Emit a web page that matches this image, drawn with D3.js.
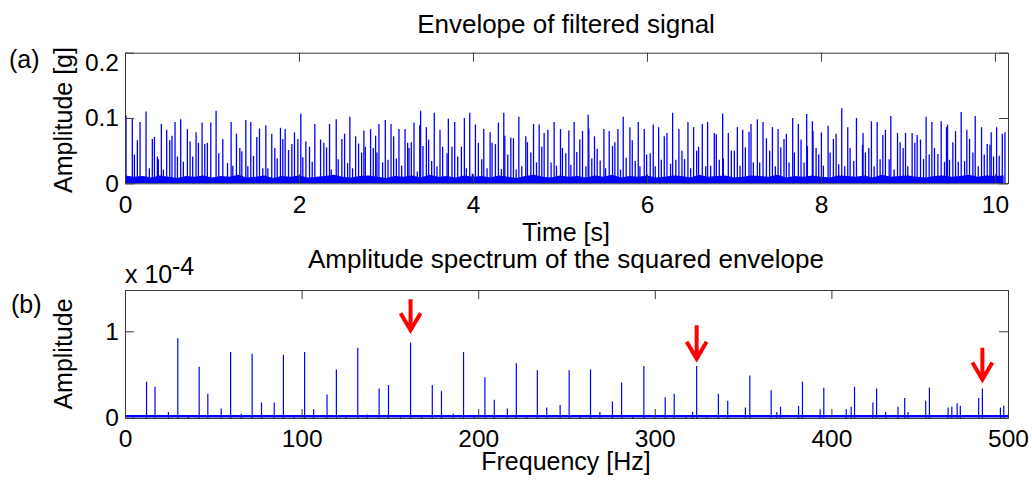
<!DOCTYPE html>
<html><head><meta charset="utf-8">
<script src="https://cdn.jsdelivr.net/npm/d3@7"></script>
<style>
body{margin:0;background:#fff}
svg{display:block}
text{font-family:Arial,"Liberation Sans",Helvetica,sans-serif;fill:#000}
</style>
</head><body>
<svg id="c" width="1032" height="482"></svg>
<script>
// ---------------- DATA ----------------
// (a) envelope: spike peaks [time s, amplitude g]
const envSpikes = [
[0.012,0.104],[0.084,0.099],[0.108,0.044],[0.142,0.066],[0.173,0.094],[0.242,0.110],[0.280,0.023],[0.314,0.068],[0.338,0.071],[0.372,0.041],[0.383,0.037],[0.418,0.091],[0.441,0.021],[0.479,0.082],[0.514,0.066],[0.540,0.073],[0.575,0.094],[0.603,0.041],[0.640,0.098],[0.671,0.033],[0.717,0.083],[0.748,0.064],[0.778,0.041],[0.817,0.078],[0.844,0.062],[0.886,0.093],[0.917,0.060],[0.947,0.062],[0.986,0.093],[1.047,0.111],[1.078,0.046],[1.124,0.068],[1.178,0.031],[1.220,0.094],[1.239,0.027],[1.281,0.076],[1.320,0.054],[1.343,0.049],[1.389,0.097],[1.412,0.026],[1.446,0.094],[1.477,0.042],[1.515,0.071],[1.546,0.084],[1.584,0.023],[1.619,0.089],[1.642,0.023],[1.687,0.076],[1.722,0.054],[1.750,0.038],[1.787,0.085],[1.814,0.068],[1.841,0.083],[1.880,0.051],[1.918,0.060],[1.948,0.078],[1.987,0.068],[2.021,0.107],[2.044,0.040],[2.079,0.064],[2.121,0.056],[2.152,0.033],[2.182,0.091],[2.248,0.067],[2.286,0.062],[2.317,0.055],[2.351,0.091],[2.371,0.021],[2.428,0.098],[2.451,0.037],[2.493,0.068],
[2.524,0.076],[2.559,0.031],[2.585,0.102],[2.616,0.023],[2.651,0.072],[2.685,0.061],[2.720,0.047],[2.746,0.081],[2.762,0.056],[2.823,0.083],[2.854,0.054],[2.881,0.073],[2.896,0.047],[2.919,0.091],[2.961,0.032],[2.992,0.097],[3.023,0.036],[3.058,0.091],[3.088,0.072],[3.119,0.038],[3.149,0.083],[3.180,0.027],[3.219,0.083],[3.249,0.062],[3.264,0.054],[3.291,0.063],[3.322,0.093],[3.360,0.018],[3.388,0.089],[3.398,0.111],[3.425,0.057],[3.464,0.086],[3.490,0.067],[3.525,0.034],[3.555,0.108],[3.586,0.026],[3.621,0.082],[3.651,0.056],[3.702,0.046],[3.717,0.099],[3.759,0.056],[3.790,0.094],[3.824,0.041],[3.867,0.056],[3.901,0.100],[3.924,0.023],[3.963,0.108],[3.993,0.015],[4.028,0.090],[4.062,0.062],[4.101,0.037],[4.124,0.083],[4.162,0.023],[4.197,0.078],[4.219,0.062],[4.258,0.060],[4.292,0.093],[4.327,0.022],[4.354,0.108],[4.366,0.073],[4.400,0.044],[4.435,0.070],[4.465,0.069],[4.496,0.021],[4.527,0.102],[4.561,0.026],[4.607,0.072],[4.626,0.063],[4.665,0.047],[4.696,0.091],[4.730,0.032],[4.761,0.090],[4.791,0.056],[4.818,0.077],[4.861,0.082],[4.898,0.032],[4.933,0.094],[4.960,0.027],[5.006,0.083],[5.028,0.054],
[5.067,0.046],[5.102,0.081],[5.125,0.028],[5.163,0.094],[5.193,0.048],[5.228,0.067],[5.259,0.080],[5.298,0.026],[5.324,0.105],[5.332,0.084],[5.366,0.038],[5.397,0.072],[5.428,0.053],[5.462,0.035],[5.505,0.083],[5.524,0.023],[5.566,0.080],[5.604,0.057],[5.631,0.063],[5.666,0.083],[5.696,0.021],[5.727,0.102],[5.761,0.039],[5.804,0.086],[5.831,0.066],[5.865,0.034],[5.900,0.094],[5.919,0.026],[5.969,0.083],[5.996,0.044],[6.037,0.046],[6.072,0.090],[6.095,0.026],[6.134,0.086],[6.165,0.036],[6.199,0.072],[6.230,0.077],[6.271,0.030],[6.295,0.108],[6.332,0.036],[6.367,0.083],[6.402,0.050],[6.432,0.037],[6.471,0.094],[6.502,0.023],[6.536,0.086],[6.571,0.050],[6.593,0.056],[6.636,0.091],[6.675,0.026],[6.697,0.094],[6.732,0.027],[6.774,0.077],[6.797,0.075],[6.831,0.036],[6.870,0.107],[6.878,0.038],[6.935,0.077],[6.970,0.050],[7.004,0.050],[7.039,0.086],[7.070,0.027],[7.100,0.082],[7.131,0.055],[7.173,0.079],[7.196,0.091],[7.223,0.032],[7.269,0.098],[7.296,0.032],[7.334,0.094],[7.373,0.069],[7.410,0.050],[7.442,0.086],[7.476,0.026],[7.507,0.083],[7.538,0.055],[7.575,0.068],
[7.602,0.076],[7.633,0.032],[7.675,0.100],[7.694,0.047],[7.740,0.091],[7.771,0.067],[7.806,0.032],[7.836,0.106],[7.844,0.057],[7.901,0.095],[7.909,0.080],[7.944,0.054],[7.974,0.044],[8.005,0.078],[8.028,0.027],[8.082,0.088],[8.105,0.047],[8.143,0.068],[8.174,0.076],[8.204,0.029],[8.239,0.115],[8.273,0.026],[8.308,0.086],[8.335,0.054],[8.377,0.034],[8.408,0.100],[8.477,0.059],[8.484,0.077],[8.511,0.047],[8.550,0.054],[8.580,0.095],[8.611,0.026],[8.646,0.094],[8.680,0.037],[8.711,0.074],[8.741,0.082],[8.784,0.037],[8.803,0.103],[8.841,0.021],[8.880,0.077],[8.910,0.063],[8.945,0.054],[8.972,0.077],[8.998,0.026],[9.048,0.077],[9.079,0.062],[9.106,0.074],[9.144,0.067],[9.179,0.037],[9.209,0.102],[9.244,0.044],[9.275,0.094],[9.305,0.054],[9.344,0.045],[9.382,0.095],[9.420,0.033],[9.443,0.086],[9.455,0.090],[9.478,0.036],[9.516,0.063],[9.547,0.080],[9.578,0.033],[9.612,0.109],[9.651,0.034],[9.677,0.082],[9.708,0.068],[9.746,0.047],[9.773,0.103],[9.808,0.026],[9.846,0.086],[9.877,0.044],[9.911,0.060],[9.942,0.059],[9.957,0.078],[9.984,0.041],[10.019,0.086],[10.049,0.042],[10.084,0.076],[10.115,0.078]
];
// (a) envelope noise floor, read every 0.1 s
const envFloorStep = 0.1;
const envFloor = [0.012,0.010,0.011,0.009,0.012,0.010,0.008,0.011,0.010,0.012,
0.009,0.011,0.010,0.013,0.009,0.010,0.012,0.008,0.011,0.010,
0.012,0.009,0.010,0.011,0.013,0.010,0.009,0.011,0.012,0.010,
0.008,0.011,0.010,0.012,0.009,0.013,0.010,0.011,0.009,0.012,
0.010,0.011,0.009,0.012,0.010,0.008,0.011,0.013,0.010,0.009,
0.012,0.010,0.011,0.009,0.012,0.010,0.013,0.009,0.011,0.010,
0.012,0.009,0.010,0.012,0.011,0.009,0.013,0.010,0.011,0.012,
0.009,0.010,0.012,0.011,0.010,0.013,0.009,0.011,0.010,0.012,
0.010,0.009,0.012,0.011,0.010,0.012,0.009,0.013,0.010,0.011,
0.012,0.010,0.009,0.011,0.012,0.010,0.011,0.013,0.010,0.012,0.011,0.012];
const envXTicks = [0,2,4,6,8,10];
const envYTicks = [0,0.1,0.2];

// (b) spectrum peaks [frequency Hz, amplitude x1e-4]
const specPeaks = [
[4.5,0.03],[12.2,0.42],[17.0,0.36],[24.6,0.07],[29.9,0.92],[35.9,0.035],[42.0,0.59],[46.9,0.28],[54.5,0.11],[59.8,0.76],[65.8,0.05],[72.0,0.74],[77.3,0.18],[84.5,0.18],[89.7,0.73],[95.5,0.03],
[101.7,0.76],[106.8,0.10],[114.4,0.27],[119.7,0.56],[125.2,0.03],[131.8,0.81],[137.1,0.04],[143.9,0.34],[149.2,0.38],[156.0,0.03],[161.7,0.87],[167.9,0.02],[174.0,0.38],[179.2,0.31],[185.9,0.05],[191.7,0.76],[197.6,0.03],
[203.8,0.47],[209.1,0.21],[216.5,0.11],[221.6,0.63],[227.5,0.03],[233.5,0.55],[238.8,0.12],[246.4,0.15],[251.5,0.55],[257.5,0.03],[263.6,0.56],[268.9,0.07],[276.0,0.19],[281.2,0.41],[287.4,0.03],[293.8,0.60],
[305.9,0.24],[311.0,0.28],[317.6,0.03],[321.4,0.07],[323.7,0.60],[329.4,0.03],[336.0,0.28],[341.3,0.20],[351.3,0.12],[353.8,0.49],[365.9,0.32],[369.1,0.07],[371.2,0.13],[381.4,0.14],[383.6,0.42],[393.6,0.10],[395.7,0.35],
[408.4,0.10],[411.2,0.13],[413.1,0.36],[423.5,0.18],[425.6,0.34],[430.7,0.07],[437.7,0.13],[441.5,0.23],[443.4,0.07],[453.4,0.20],[455.5,0.35],[466.1,0.12],[468.2,0.13],[471.2,0.17],[473.0,0.14],[483.4,0.23],[485.5,0.34],[495.7,0.12],[497.6,0.14]
];
const specFloor = 0.02;
const specXTicks = [0,100,200,300,400,500];
const specYTicks = [0,1];
// red arrows: frequency, tip amplitude, tail amplitude (x1e-4)
const arrowF = [161.7, 323.7, 485.5];
const arrowTip = [0.99, 0.66, 0.42];
const arrowTail = [1.37, 1.07, 0.81];

// ---------------- DRAW ----------------
const svg = d3.select('#c');
const BLUE = '#0000ff';
const AX = '#3a3a3a';

const xA = d3.scaleLinear().domain([0,10.15]).range([125,1008]);
const yA = d3.scaleLinear().domain([0,0.2]).range([183.3,52.7]);
const xB = d3.scaleLinear().domain([0,500]).range([125,1008]);
const yB = d3.scaleLinear().domain([0,1.476]).range([418,290]);

// --- panel (a) data
const gA = svg.append('g');
const floorPts = envFloor.map((v,i)=>[i*envFloorStep, v]).filter(d=>d[0]<=10.15);
gA.append('path').datum(floorPts)
  .attr('d', d3.area().x(d=>xA(d[0])).y0(yA(0)).y1(d=>yA(d[1])))
  .attr('fill', BLUE);
gA.selectAll('line.sp').data(envSpikes).join('line').attr('class','sp')
  .attr('x1',d=>xA(d[0])).attr('x2',d=>xA(d[0]))
  .attr('y1',yA(0)).attr('y2',d=>yA(d[1]))
  .attr('stroke',BLUE).attr('stroke-width',1.3);

// --- panel (b) data
const gB = svg.append('g');
gB.append('line').attr('x1',xB(0)).attr('x2',xB(500))
  .attr('y1',yB(specFloor)).attr('y2',yB(specFloor))
  .attr('stroke',BLUE).attr('stroke-width',2.5);
gB.selectAll('line.pk').data(specPeaks).join('line').attr('class','pk')
  .attr('x1',d=>xB(d[0])).attr('x2',d=>xB(d[0]))
  .attr('y1',yB(0)).attr('y2',d=>yB(d[1]))
  .attr('stroke',BLUE).attr('stroke-width',1.2);

// arrows
arrowF.forEach((f,i)=>{
  const x = xB(f), yt = yB(arrowTip[i]), y0 = yB(arrowTail[i]);
  svg.append('path')
    .attr('d',`M${x},${y0}L${x},${yt-2}M${x-10},${yt-19}L${x},${yt-2}L${x+10},${yt-19}`)
    .attr('fill','none').attr('stroke','#ff0000').attr('stroke-width',4)
    .attr('stroke-linejoin','miter');
});

// --- axes
function styleAxis(g){
  g.attr('font-family',null).attr('font-size',null);
  g.selectAll('.domain').attr('stroke',AX).attr('stroke-width',1);
  g.selectAll('.tick line').attr('stroke',AX).attr('stroke-width',1);
  g.selectAll('.tick text').style('font-size','24.5px').attr('fill','#000');
}
function drawAxes(x,y,xt,yt,xPad){
  const [y0,y1] = y.range(), [x0,x1] = x.range();
  const fmt = d=>String(d);
  svg.append('g').attr('transform',`translate(0,${y0})`)
    .call(d3.axisBottom(x).tickValues(xt).tickSizeInner(-9).tickSizeOuter(0).tickPadding(xPad).tickFormat(fmt))
    .call(styleAxis);
  svg.append('g').attr('transform',`translate(0,${y1})`)
    .call(d3.axisTop(x).tickValues(xt).tickSizeInner(-9).tickSizeOuter(0).tickFormat(''))
    .call(styleAxis);
  const la = svg.append('g').attr('transform',`translate(${x0},0)`)
    .call(d3.axisLeft(y).tickValues(yt).tickSizeInner(-9).tickSizeOuter(0).tickPadding(6).tickFormat(fmt))
    .call(styleAxis);
  svg.append('g').attr('transform',`translate(${x1},0)`)
    .call(d3.axisRight(y).tickValues(yt).tickSizeInner(-9).tickSizeOuter(0).tickFormat(''))
    .call(styleAxis);
  return la;
}
const leftA = drawAxes(xA,yA,envXTicks,envYTicks,12);
// top label of panel (a) sits slightly below its tick
leftA.selectAll('.tick text').filter(d=>d===0.2).attr('y',10);
drawAxes(xB,yB,specXTicks,specYTicks,12);

// --- texts
function txt(x,y,s,size,anchor,rot){
  const t = svg.append('text').attr('x',x).attr('y',y).text(s)
    .style('font-size',size+'px').attr('text-anchor',anchor||'middle');
  if(rot) t.attr('transform',`rotate(${rot},${x},${y})`);
  return t;
}
txt(566,32.5,'Envelope of filtered signal',26);
txt(566,240.5,'Time [s]',25);
txt(9,68,'(a)',25,'start');
txt(72,120,'Amplitude [g]',25,'middle',-90);

txt(566,268,'Amplitude spectrum of the squared envelope',26);
txt(125,283,'x 10',25,'start');
txt(172,275,'-4',25,'start');
txt(11,313,'(b)',25,'start');
txt(72,354,'Amplitude',25,'middle',-90);
txt(566,470,'Frequency [Hz]',25);
</script>
</body></html>
